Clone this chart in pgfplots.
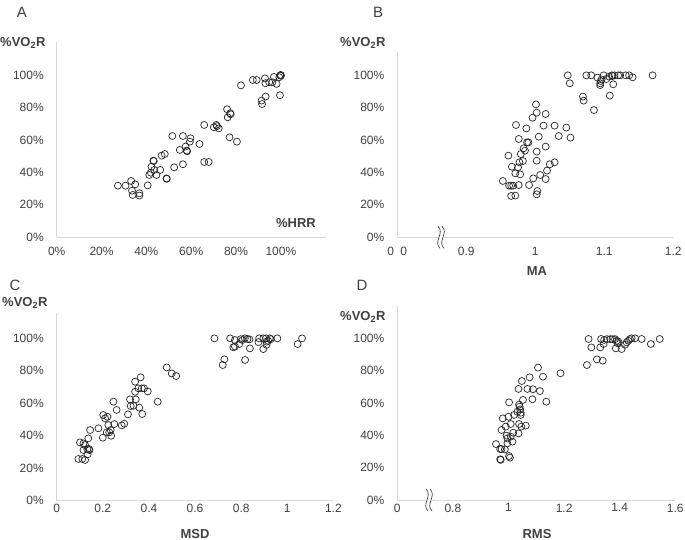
\documentclass[border=0pt]{standalone}
\usepackage{pgfplots}
\pgfplotsset{compat=1.18}
\usepackage{fontspec}
\setmainfont{Liberation Sans}
\definecolor{axgray}{HTML}{D9D9D9}
\definecolor{txtgray}{HTML}{404040}
\definecolor{markc}{HTML}{262626}
\pgfplotsset{
 panel/.style={
  scale only axis, clip=false, anchor=south west,
  axis x line*=bottom, axis y line*=left,
  axis line style={draw=axgray, line width=0.9pt},
  major tick length=0pt,
  tick label style={font=\fontsize{12}{14}\selectfont, text=txtgray, inner sep=0pt},
  yticklabel style={anchor=east, xshift=-12.8pt},
  ymin=0,
  ytick={0,0.2,0.4,0.6,0.8,1},
  yticklabels={0\%,20\%,40\%,60\%,80\%,100\%},
 },
 pts/.style={only marks, mark=o, mark size=3.5pt, draw=markc, line width=0.7pt}
}
\begin{document}
\begin{tikzpicture}[x=1pt,y=1pt]
\useasboundingbox (0,0) rectangle (685,540);
% ---------- A ----------
\begin{axis}[panel, at={(56.7pt,302.7pt)}, width=269pt, height=194.8pt,
  xmin=0, xmax=1.2, ymax=1.2,
  xtick={0,0.2,0.4,0.6,0.8,1}, xticklabels={0\%,20\%,40\%,60\%,80\%,100\%},
  xticklabel style={anchor=north, yshift=-10pt}]
\addplot[pts] table {
0.273 0.318
0.307 0.318
0.332 0.347
0.336 0.287
0.339 0.261
0.350 0.326
0.369 0.271
0.369 0.257
0.406 0.320
0.413 0.384
0.420 0.398
0.423 0.435
0.431 0.472
0.433 0.470
0.435 0.415
0.445 0.384
0.462 0.415
0.468 0.503
0.482 0.513
0.490 0.363
0.491 0.360
0.524 0.431
0.516 0.624
0.549 0.538
0.563 0.450
0.563 0.624
0.575 0.559
0.580 0.534
0.582 0.530
0.594 0.589
0.597 0.610
0.637 0.575
0.658 0.692
0.658 0.464
0.678 0.464
0.701 0.678
0.712 0.692
0.715 0.685
0.723 0.671
0.760 0.789
0.763 0.739
0.771 0.616
0.774 0.764
0.776 0.758
0.804 0.589
0.822 0.936
0.875 0.969
0.892 0.969
0.914 0.842
0.916 0.821
0.932 0.867
0.929 0.979
0.931 0.949
0.948 0.955
0.962 0.955
0.969 0.988
0.981 0.945
0.993 0.986
0.997 0.998
1.000 1.000
1.000 0.995
0.996 0.875
};
\end{axis}
% ---------- B ----------
\begin{axis}[panel, at={(397.3pt,302.7pt)}, width=276pt, height=185pt,
  xmin=0.8, xmax=1.2, ymax=1.14,
  xtick={0.9,1,1.1,1.2}, xticklabels={0.9,1,1.1,1.2},
  extra x ticks={0.8}, extra x tick labels={0\hspace{6.3pt}0},
  xticklabel style={anchor=north, yshift=-10pt}]
\addplot[pts] table {
0.953 0.347
0.961 0.503
0.962 0.318
0.965 0.318
0.968 0.318
0.966 0.435
0.965 0.255
0.971 0.257
0.972 0.692
0.971 0.394
0.975 0.431
0.976 0.606
0.976 0.322
0.978 0.388
0.977 0.462
0.979 0.513
0.982 0.470
0.983 0.548
0.985 0.534
0.987 0.671
0.988 0.585
0.990 0.585
0.991 0.322
0.996 0.737
0.997 0.363
1.001 0.819
1.002 0.768
1.002 0.528
1.002 0.472
1.003 0.285
1.002 0.265
1.005 0.620
1.007 0.384
1.012 0.688
1.015 0.760
1.015 0.559
1.015 0.359
1.017 0.411
1.021 0.450
1.028 0.688
1.028 0.462
1.034 0.624
1.045 0.676
1.047 0.998
1.050 0.949
1.051 0.614
1.069 0.867
1.070 0.842
1.074 0.998
1.081 0.998
1.085 0.784
1.090 0.984
1.094 0.949
1.094 0.938
1.095 0.963
1.096 0.973
1.099 0.998
1.103 0.975
1.107 0.990
1.108 0.873
1.111 0.998
1.113 0.943
1.112 0.994
1.115 0.998
1.120 0.998
1.123 0.998
1.131 0.998
1.136 0.998
1.141 0.986
1.170 0.998
};
\end{axis}
% ---------- C ----------
\begin{axis}[panel, at={(56.7pt,39.3pt)}, width=276.7pt, height=187.5pt,
  xmin=0, xmax=1.2, ymax=1.155,
  xtick={0,0.2,0.4,0.6,0.8,1,1.2}, xticklabels={0,0.2,0.4,0.6,0.8,1,1.2},
  xticklabel style={anchor=north, yshift=-3.5pt}]
\addplot[pts] table {
0.094 0.257
0.111 0.257
0.101 0.359
0.116 0.353
0.123 0.251
0.116 0.312
0.123 0.343
0.137 0.384
0.133 0.318
0.134 0.285
0.140 0.318
0.142 0.312
0.145 0.435
0.181 0.446
0.200 0.388
0.202 0.528
0.210 0.507
0.220 0.517
0.217 0.421
0.224 0.466
0.228 0.421
0.234 0.435
0.236 0.400
0.246 0.610
0.250 0.472
0.260 0.559
0.282 0.464
0.293 0.474
0.309 0.532
0.318 0.624
0.321 0.583
0.333 0.585
0.340 0.671
0.340 0.733
0.343 0.624
0.354 0.692
0.358 0.573
0.364 0.760
0.369 0.692
0.379 0.692
0.371 0.534
0.395 0.673
0.438 0.610
0.477 0.821
0.499 0.784
0.518 0.768
0.684 1.000
0.720 0.836
0.727 0.871
0.752 1.000
0.766 0.945
0.773 0.950
0.773 0.990
0.792 0.965
0.798 0.995
0.806 0.990
0.816 1.000
0.827 0.996
0.836 0.994
0.817 0.867
0.838 0.938
0.875 0.977
0.878 1.000
0.896 0.934
0.896 1.000
0.908 1.000
0.910 0.980
0.917 0.985
0.924 1.000
0.928 0.995
0.910 0.960
0.957 1.000
1.045 0.965
1.064 1.000
};
\end{axis}
% ---------- D ----------
\begin{axis}[panel, at={(397.3pt,40pt)}, width=278pt, height=194pt,
  xmin=0.6, xmax=1.6, ymax=1.2,
  xtick={0.6,0.8,1,1.2,1.4,1.6}, xticklabels={0,0.8,1,1.2,1.4,1.6},
  xticklabel style={anchor=north, yshift=-3.5pt}]
\addplot[pts] table {
0.955 0.346
0.970 0.315
0.975 0.315
0.970 0.252
0.972 0.248
0.975 0.433
0.979 0.505
0.987 0.313
0.990 0.454
0.993 0.398
0.996 0.381
0.996 0.350
1.000 0.515
1.002 0.604
1.002 0.272
1.005 0.262
1.008 0.470
1.008 0.392
1.014 0.361
1.017 0.416
1.020 0.526
1.032 0.546
1.036 0.687
1.036 0.412
1.038 0.470
1.038 0.590
1.040 0.577
1.042 0.560
1.044 0.540
1.044 0.526
1.046 0.454
1.048 0.736
1.052 0.619
1.062 0.460
1.068 0.687
1.076 0.759
1.086 0.623
1.088 0.685
1.106 0.819
1.113 0.674
1.124 0.763
1.136 0.608
1.187 0.784
1.282 0.835
1.288 0.996
1.298 0.944
1.318 0.870
1.330 0.944
1.333 0.996
1.339 0.862
1.342 0.965
1.344 0.990
1.354 0.995
1.366 0.995
1.374 0.995
1.383 0.995
1.389 0.985
1.395 0.980
1.392 0.970
1.386 0.938
1.407 0.934
1.419 0.960
1.425 0.975
1.431 0.985
1.437 0.995
1.443 1.000
1.455 1.000
1.479 0.996
1.512 0.965
1.544 0.996
};
\end{axis}
% ---------- axis breaks ----------
\foreach \bx/\by in {440/302.7, 428/40}{
  \fill[white] (\bx-2,\by-2) rectangle (\bx+4,\by+2);
  \draw[markc, line width=0.6pt] (\bx-2,\by+11) .. controls (\bx+5,\by+4) and (\bx-7,\by-4) .. (\bx,\by-11);
  \draw[markc, line width=0.6pt] (\bx+2,\by+11) .. controls (\bx+9,\by+4) and (\bx-3,\by-4) .. (\bx+4,\by-11);
}
% ---------- texts ----------
\tikzset{lab/.style={font=\fontsize{13}{15}\selectfont\bfseries, text=txtgray, inner sep=0pt}}
\node[font=\fontsize{15}{17}\selectfont, text=txtgray] at (22,528) {A};
\node[font=\fontsize{15}{17}\selectfont, text=txtgray] at (378,528) {B};
\node[font=\fontsize{15}{17}\selectfont, text=txtgray] at (15,255) {C};
\node[font=\fontsize{15}{17}\selectfont, text=txtgray] at (362,255) {D};
\node[lab, anchor=west] at (0,497) {\%VO\textsubscript{2}R};
\node[lab, anchor=west] at (340,497) {\%VO\textsubscript{2}R};
\node[lab, anchor=west] at (2,237) {\%VO\textsubscript{2}R};
\node[lab, anchor=west] at (340,223) {\%VO\textsubscript{2}R};
\node[lab] at (296,317) {\%HRR};
\node[lab] at (537,269) {MA};
\node[lab] at (195,6) {MSD};
\node[lab] at (537,6) {RMS};
\end{tikzpicture}
\end{document}
